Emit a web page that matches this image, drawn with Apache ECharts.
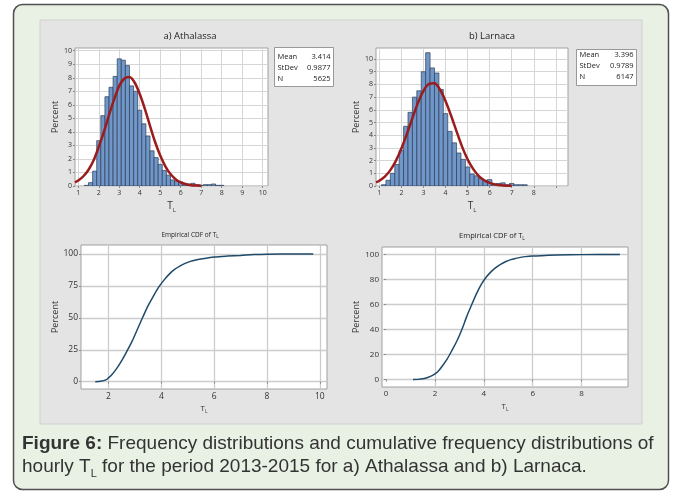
<!DOCTYPE html>
<html><head><meta charset="utf-8">
<script src="https://cdn.jsdelivr.net/npm/echarts@6/dist/echarts.min.js"></script>
<style>html,body{margin:0;padding:0;background:#fff}#c{width:677px;height:494px}</style>
</head><body><div id="c"></div>
<script>
// ---------- data ----------
const BIN_W = 0.2;
const athCenters = [1.4,1.6,1.8,2.0,2.2,2.4,2.6,2.8,3.0,3.2,3.4,3.6,3.8,4.0,4.2,4.4,4.6,4.8,5.0,5.2,5.4,5.6,5.8,6.0,6.2,6.4,6.6,6.8,7.0,7.2,7.4,7.6,7.8,8.0];
const athPct     = [0.05,0.25,1.1,3.35,5.2,6.6,7.3,8.1,9.4,9.3,8.9,7.4,7.0,5.6,4.6,3.7,2.6,2.1,1.6,1.15,0.8,0.45,0.35,0.3,0.2,0.15,0.2,0.1,0.05,0.1,0.1,0.15,0.05,0.05];
const larCenters = [1.2,1.4,1.6,1.8,2.0,2.2,2.4,2.6,2.8,3.0,3.2,3.4,3.6,3.8,4.0,4.2,4.4,4.6,4.8,5.0,5.2,5.4,5.6,5.8,6.0,6.2,6.4,6.6,6.8,7.0,7.2,7.4,7.6];
const larPct     = [0.1,0.45,1.0,1.7,2.8,4.7,5.8,7.0,7.5,9.0,10.5,9.3,8.9,7.6,5.7,4.3,3.4,2.6,2.1,1.5,0.95,0.8,0.6,0.45,0.5,0.15,0.2,0.25,0.1,0.2,0.1,0.1,0.1];

const athFitX = [0.84,1.0,1.25,1.5,1.75,2.0,2.25,2.5,2.75,3.0,3.25,3.5,3.75,4.0,4.25,4.5,4.75,5.0,5.25,5.5,5.75,6.0,6.25,6.5,6.75,7.0];
const athFitY = [0.27,0.41,0.72,1.2,1.9,2.9,4.0,5.25,6.4,7.4,7.95,8.05,7.65,6.8,5.7,4.45,3.25,2.25,1.45,0.88,0.5,0.26,0.13,0.06,0.03,0.01];
const larFitX = [0.85,1.0,1.25,1.5,1.75,2.0,2.25,2.5,2.75,3.0,3.25,3.5,3.75,4.0,4.25,4.5,4.75,5.0,5.25,5.5,5.75,6.0,6.25,6.5,6.75,7.0];
const larFitY = [0.28,0.41,0.74,1.25,1.98,2.95,4.1,5.35,6.55,7.5,8.05,8.1,7.6,6.7,5.55,4.3,3.1,2.1,1.35,0.8,0.45,0.24,0.12,0.05,0.02,0.01];

const athCdfX = [1.5,1.7,1.9,2.0,2.1,2.3,2.5,2.7,2.9,3.1,3.3,3.5,3.7,3.9,4.1,4.3,4.5,4.7,4.9,5.1,5.3,5.5,5.7,6.0,6.5,7.0,7.5,8.0,9.0,9.75];
const athCdfY = [0,0.3,1.4,3,4.8,10,16.5,24,32,41.3,50.6,59.5,67,74,79.5,84.2,87.9,90.5,92.6,94.2,95.3,96.1,96.7,97.6,98.3,98.8,99.5,99.8,99.9,100];
const larCdfX = [1.1,1.3,1.5,1.7,1.9,2.1,2.3,2.5,2.7,2.9,3.1,3.3,3.5,3.7,3.9,4.1,4.3,4.5,4.7,4.9,5.1,5.3,5.5,5.7,6.0,6.5,7.0,8.0,9.57];
const larCdfY = [0,0.1,0.55,1.55,3.25,6,10.8,16.5,23.5,31,40,50.5,59.8,68.7,76.3,82,86.3,89.7,92.3,94.4,95.9,96.9,97.7,98.3,98.8,99.2,99.6,99.9,100];

const histYTicks = [0,1,2,3,4,5,6,7,8,9,10];
const athXTicks = [1,2,3,4,5,6,7,8,9,10];
const larXTicks = [1,2,3,4,5,6,7,8];
const larXGrid = [1,2,3,4,5,6,7,8,9];
const athCdfXTicks = [2,4,6,8,10];
const athCdfYTicks = [0,25,50,75,100];
const larCdfXTicks = [0,2,4,6,8];
const larCdfYTicks = [0,20,40,60,80,100];

const titles = ['a) Athalassa','b) Larnaca'];
const stats = [
  [['Mean','3.414'],['StDev','0.9877'],['N','5625']],
  [['Mean','3.396'],['StDev','0.9789'],['N','6147']]
];

// ---------- helpers ----------
const FONT = '"Open Sans", "Noto Sans", sans-serif';
const CAP = '"Liberation Sans", Arial, sans-serif';
const zip = (a,b) => a.map((v,i)=>[v,b[i]]);

function tlName(size){
  return {
    name:'{t|T}{s|L}', nameLocation:'middle',
    nameTextStyle:{rich:{
      t:{fontSize:size, fontFamily:FONT, color:'#333', lineHeight:size+3},
      s:{fontSize:size*0.6, fontFamily:FONT, color:'#333', verticalAlign:'bottom', lineHeight:size*0.5}
    }}
  };
}
function xAxis(gi, min, max, ticks, gridTicks, fs, gap, split){
  return Object.assign({
    type:'value', gridIndex:gi, min, max, nameGap:gap,
    axisLine:{show:false},
    axisTick:{show:true, length:2, customValues:gridTicks, lineStyle:{color:'#888'}},
    axisLabel:{customValues:ticks, fontSize:fs, color:'#333', margin:3, fontFamily:FONT},
    splitLine:{show:true, lineStyle:split}
  }, tlName(gi<2?10:8));
}
function yAxis(gi, min, max, ticks, fs, gap, split){
  return {
    type:'value', gridIndex:gi, min, max,
    name:'Percent', nameLocation:'middle', nameGap:gap, nameRotate:90,
    nameTextStyle:{fontSize:9, fontFamily:FONT, color:'#333'},
    axisLine:{show:false},
    axisTick:{show:true, length:2, customValues:ticks, lineStyle:{color:'#888'}},
    axisLabel:{customValues:ticks, fontSize:fs, color:'#333', margin:3, fontFamily:FONT},
    splitLine:{show:true, lineStyle:split}
  };
}
function barSeries(xi, centers, pct){
  return {
    type:'custom', xAxisIndex:xi, yAxisIndex:xi, clip:true,
    data: centers.map((c,i)=>[c, pct[i], BIN_W]),
    renderItem:(params, api)=>{
      const x=api.value(0), y=api.value(1), w=api.value(2);
      const p0=api.coord([x-w/2, y]), p1=api.coord([x+w/2, 0]);
      return {type:'rect', shape:{x:p0[0], y:p0[1], width:p1[0]-p0[0], height:p1[1]-p0[1]},
        style:{fill:'#7097c9', stroke:'#2e3d55', lineWidth:0.7}};
    }
  };
}
function lineSeries(xi, data, color, width){
  return {type:'line', xAxisIndex:xi, yAxisIndex:xi, data, smooth:0.3, symbol:'none',
    lineStyle:{color, width}, clip:true, z:5};
}

const histSplit = {color:'#d6d6d6', width:1};
const cdfSplit = {color:'#cccccc', width:1.3};
const cdfSplitNoZero = {color:['rgba(0,0,0,0)','#cccccc','#cccccc','#cccccc','#cccccc'], width:1.3};

// ---------- graphics (frame, panel, titles, stat boxes, caption) ----------
const graphics = [
  {type:'rect', z:-10, shape:{x:13.5, y:4.5, width:655, height:485, r:9}, style:{fill:'#e8f1e4', stroke:'#505050', lineWidth:1.5}},
  {type:'rect', z:-9, shape:{x:40, y:20, width:602, height:404}, style:{fill:'#e4e4e4', stroke:'#d0d0d0', lineWidth:1}},
  {type:'text', x:190, y:36, style:{text:titles[0], font:'9.5px '+FONT, fill:'#222', align:'center', verticalAlign:'middle'}},
  {type:'text', x:492, y:36, style:{text:titles[1], font:'9.5px '+FONT, fill:'#222', align:'center', verticalAlign:'middle'}},
  {type:'text', x:190, y:235, style:{text:'{a|Empirical CDF of T}{b|L}', rich:{a:{fontSize:6.5, fontFamily:FONT, fill:'#222', lineHeight:9}, b:{fontSize:4.5, fontFamily:FONT, fill:'#222', verticalAlign:'bottom', lineHeight:4}}, align:'center', verticalAlign:'middle'}},
  {type:'text', x:492, y:236, style:{text:'{a|Empirical CDF of T}{b|L}', rich:{a:{fontSize:7.5, fontFamily:FONT, fill:'#222', lineHeight:10}, b:{fontSize:5, fontFamily:FONT, fill:'#222', verticalAlign:'bottom', lineHeight:4}}, align:'center', verticalAlign:'middle'}},
  {type:'text', x:22, y:444, style:{text:'{b|Figure 6:}{n| Frequency distributions and cumulative frequency distributions of}', rich:{b:{fontSize:19, fontWeight:'bold', fontFamily:CAP, fill:'#333'}, n:{fontSize:19, fontFamily:CAP, fill:'#333'}}, verticalAlign:'middle'}},
  {type:'text', x:22, y:467, style:{text:'{n|hourly T}{s|L}{n| for the period 2013-2015 for a) Athalassa and b) Larnaca.}', rich:{n:{fontSize:19, lineHeight:24, fontFamily:CAP, fill:'#333'}, s:{fontSize:11, lineHeight:8, verticalAlign:'bottom', fontFamily:CAP, fill:'#333'}}, verticalAlign:'middle'}}
];
function statBox(x, y, w, h, rows, lineYs){
  graphics.push({type:'rect', shape:{x, y, width:w, height:h}, style:{fill:'#fff', stroke:'#999', lineWidth:1}});
  rows.forEach((r,i)=>{
    graphics.push({type:'text', x:x+3, y:lineYs[i], style:{text:r[0], font:'7.5px '+FONT, fill:'#222', verticalAlign:'middle'}});
    graphics.push({type:'text', x:x+w-3, y:lineYs[i], style:{text:r[1], font:'7.5px '+FONT, fill:'#222', align:'right', verticalAlign:'middle'}});
  });
}
statBox(274.5, 47.5, 59, 39, stats[0], [57, 68, 79]);
statBox(576.5, 49.5, 60, 36, stats[1], [55, 66, 77]);

const gridBase = {show:true, backgroundColor:'#fff', borderColor:'#a0a0a0', borderWidth:1};
const option = {
  animation:false,
  backgroundColor:'#fff',
  grid:[
    Object.assign({left:75, top:48, width:193, height:138}, gridBase),
    Object.assign({left:376, top:48, width:192, height:138}, gridBase),
    Object.assign({left:81, top:245, width:246, height:144}, gridBase),
    Object.assign({left:382, top:247, width:246, height:140}, gridBase)
  ],
  xAxis:[
    xAxis(0, 0.84, 10.26, athXTicks, athXTicks, 7, 14, histSplit),
    xAxis(1, 0.85, 9.55, larXTicks, larXGrid, 7, 14, histSplit),
    xAxis(2, 0.96, 10.27, athCdfXTicks, athCdfXTicks, 8.5, 14, cdfSplit),
    xAxis(3, -0.17, 9.9, larCdfXTicks, larCdfXTicks, 8, 14, cdfSplitNoZero)
  ],
  yAxis:[
    yAxis(0, 0, 10.2, histYTicks, 7, 14, histSplit),
    yAxis(1, 0, 10.87, histYTicks, 7, 14, histSplit),
    yAxis(2, -5.7, 107, athCdfYTicks, 8.5, 19, cdfSplit),
    yAxis(3, -6, 106, larCdfYTicks, 8, 19, cdfSplit)
  ],
  series:[
    barSeries(0, athCenters, athPct),
    lineSeries(0, zip(athFitX, athFitY), '#9b1c1c', 2.5),
    barSeries(1, larCenters, larPct),
    lineSeries(1, zip(larFitX, larFitY), '#9b1c1c', 2.5),
    lineSeries(2, zip(athCdfX, athCdfY), '#1f4a6a', 1.5),
    lineSeries(3, zip(larCdfX, larCdfY), '#1f4a6a', 1.5)
  ],
  graphic: graphics
};
const chart = echarts.init(document.getElementById('c'));
chart.setOption(option);
</script>
</body></html>
